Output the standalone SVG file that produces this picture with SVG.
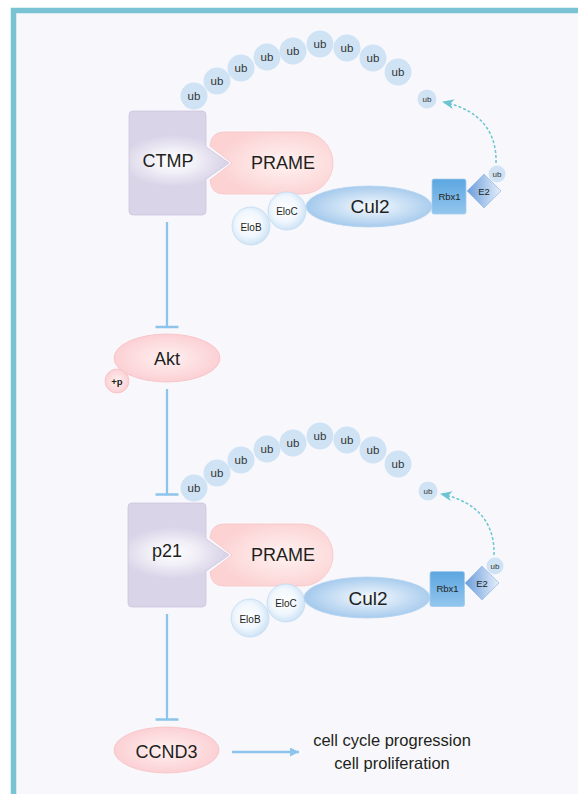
<svg xmlns="http://www.w3.org/2000/svg" width="578" height="794" viewBox="0 0 578 794">
<style>
.t{font-family:"Liberation Sans",Arial,sans-serif;fill:#231f20;text-anchor:middle}
.ub{fill:#cfe3f5}
.ubt{font-family:"Liberation Sans",Arial,sans-serif;fill:#333;text-anchor:middle;font-size:11.5px}
.ubs{font-family:"Liberation Sans",Arial,sans-serif;fill:#333;text-anchor:middle;font-size:8px}
.box{fill:url(#gBox);stroke:#cbc5de;stroke-width:0.8}
.prame{fill:url(#gPink);stroke:#f8c4c6;stroke-width:0.8}
.elo{fill:url(#gElo);stroke:#c2dbf0;stroke-width:0.8}
.cul{fill:url(#gCul);stroke:#b6d4f0;stroke-width:0.8}
.rbx{fill:url(#gRbx);stroke:#a3cbee;stroke-width:0.8}
.e2{fill:url(#gE2);stroke:#9fbfe8;stroke-width:0.8}
.pink{fill:url(#gPinkE);stroke:#f6bfc3;stroke-width:0.8}
.inh{stroke:#8dc4eb;stroke-width:2.3;fill:none}
.dash{stroke:#6cc4d2;stroke-width:1.5;fill:none;stroke-dasharray:3 2}
</style>
<defs>
<radialGradient id="gBox" cx="0" cy="0" r="1" gradientTransform="translate(0.44,0.48) scale(0.52,0.25)">
<stop offset="0" stop-color="#ffffff"/>
<stop offset="0.45" stop-color="#f1eff7"/>
<stop offset="1" stop-color="#d9d4e8"/>
</radialGradient>
<radialGradient id="gPink" cx="0.6" cy="0.5" r="0.55">
<stop offset="0" stop-color="#fff3f2"/>
<stop offset="1" stop-color="#fcd2d3"/>
</radialGradient>
<radialGradient id="gPinkE" cx="0.5" cy="0.5" r="0.55">
<stop offset="0" stop-color="#fff1f1"/>
<stop offset="1" stop-color="#fbcdd1"/>
</radialGradient>
<radialGradient id="gElo" cx="0.45" cy="0.45" r="0.55">
<stop offset="0" stop-color="#ffffff"/>
<stop offset="0.6" stop-color="#f1f7fd"/>
<stop offset="1" stop-color="#cfe4f6"/>
</radialGradient>
<radialGradient id="gCul" cx="0.52" cy="0.5" r="0.5">
<stop offset="0" stop-color="#f6fafe"/>
<stop offset="1" stop-color="#a7cbed"/>
</radialGradient>
<linearGradient id="gRbx" x1="0" y1="0" x2="0" y2="1">
<stop offset="0" stop-color="#5ca6e0"/>
<stop offset="1" stop-color="#93c6ee"/>
</linearGradient>
<linearGradient id="gE2" x1="0" y1="0" x2="1" y2="0">
<stop offset="0" stop-color="#6a9ddb"/>
<stop offset="1" stop-color="#e6effa"/>
</linearGradient>
<marker id="mDash" viewBox="0 0 12 10" refX="11" refY="5" markerWidth="12" markerHeight="10" markerUnits="userSpaceOnUse" orient="auto">
<path d="M0,0 L12,5 L0,10 L3.5,5 Z" fill="#6cc4d2"/>
</marker>
<marker id="mArr" viewBox="0 0 10 10" refX="10" refY="5" markerWidth="9" markerHeight="9" markerUnits="userSpaceOnUse" orient="auto">
<path d="M0,0 L10,5 L0,10 Z" fill="#8dc4eb"/>
</marker>
</defs>

<rect x="0" y="0" width="578" height="794" fill="#ffffff"/>
<rect x="13.5" y="10.5" width="600" height="800" fill="#f8f8fc" stroke="#79c3d5" stroke-width="5.5"/>

<!-- connectors -->
<g id="connectors">
<path class="inh" d="M167,222 V327 M155.5,327 H178.5"/>
<path class="inh" d="M167,389 V494.5 M155.5,494.5 H178.5"/>
<path class="inh" d="M167,614 V719.5 M155.5,719.5 H178.5"/>
<path d="M232,752 H299" stroke="#8dc4eb" stroke-width="2.3" fill="none" marker-end="url(#mArr)"/>
<path class="dash" d="M496,163 C497,134 482,110 443,102" marker-end="url(#mDash)"/>
<path class="dash" d="M494,555 C495,526 480,502 441,494" marker-end="url(#mDash)"/>
</g>

<!-- top complex -->
<g id="ub-chain-top">
<circle class="ub" cx="194" cy="96" r="13.5"/><text class="ubt" x="194" y="100">ub</text>
<circle class="ub" cx="217" cy="81" r="13.5"/><text class="ubt" x="217" y="85">ub</text>
<circle class="ub" cx="241" cy="68" r="13.5"/><text class="ubt" x="241" y="72">ub</text>
<circle class="ub" cx="267" cy="57" r="13.5"/><text class="ubt" x="267" y="61">ub</text>
<circle class="ub" cx="293" cy="51" r="13.5"/><text class="ubt" x="293" y="55">ub</text>
<circle class="ub" cx="320" cy="44" r="13.5"/><text class="ubt" x="320" y="48">ub</text>
<circle class="ub" cx="347" cy="48" r="13.5"/><text class="ubt" x="347" y="52">ub</text>
<circle class="ub" cx="373" cy="58" r="13.5"/><text class="ubt" x="373" y="62">ub</text>
<circle class="ub" cx="398" cy="72" r="13.5"/><text class="ubt" x="398" y="76">ub</text>
</g>
<g id="ub-free-top">
<circle class="ub" cx="427" cy="99" r="9.5"/><text class="ubs" x="427" y="102">ub</text>
</g>
<g id="ctmp">
<path class="box" d="M133,111 H202 Q206,111 206,115 V147 L229,163 L206,179 V211 Q206,215 202,215 H133 Q129,215 129,211 V115 Q129,111 133,111 Z"/>
<text class="t" x="168" y="166.5" font-size="18">CTMP</text>
</g>
<g id="prame-top">
<path class="prame" d="M224,132 H302 A31,31 0 0 1 302,194 H224 Q211,194 210,180 L232,163 L210,146 Q211,132 224,132 Z"/>
<text class="t" x="283" y="168.5" font-size="18">PRAME</text>
</g>
<g id="elob-top">
<circle class="elo" cx="251" cy="226" r="19"/>
<text class="t" x="251" y="230.5" font-size="10">EloB</text>
</g>
<g id="eloc-top">
<circle class="elo" cx="287" cy="211" r="19"/>
<text class="t" x="287" y="215" font-size="10">EloC</text>
</g>
<g id="cul2-top">
<ellipse class="cul" cx="369" cy="206.5" rx="63" ry="20.5"/>
<text class="t" x="370" y="213" font-size="19">Cul2</text>
</g>
<g id="rbx1-top">
<rect class="rbx" x="432" y="179" width="34" height="35" rx="2"/>
<text class="t" x="449.5" y="199.5" font-size="9.5">Rbx1</text>
</g>
<g id="e2-top">
<path class="e2" d="M484,174 L501,191 L484,208 L467,191 Z"/>
<text class="t" x="484" y="194.5" font-size="9.5">E2</text>
<circle class="ub" cx="497" cy="174" r="8.5"/>
<text class="ubs" x="497" y="177">ub</text>
</g>

<!-- Akt -->
<g id="akt">
<ellipse class="pink" cx="167" cy="358" rx="53" ry="24"/>
<text class="t" x="167" y="365" font-size="18">Akt</text>
<circle class="pink" cx="117" cy="381" r="12"/>
<text class="t" x="117" y="384.5" font-size="9.5" font-weight="bold">+p</text>
</g>

<!-- bottom complex -->
<g id="ub-chain-bottom">
<circle class="ub" cx="194" cy="488" r="13.5"/><text class="ubt" x="194" y="492">ub</text>
<circle class="ub" cx="217" cy="473" r="13.5"/><text class="ubt" x="217" y="477">ub</text>
<circle class="ub" cx="241" cy="460" r="13.5"/><text class="ubt" x="241" y="464">ub</text>
<circle class="ub" cx="267" cy="449" r="13.5"/><text class="ubt" x="267" y="453">ub</text>
<circle class="ub" cx="293" cy="443" r="13.5"/><text class="ubt" x="293" y="447">ub</text>
<circle class="ub" cx="320" cy="436" r="13.5"/><text class="ubt" x="320" y="440">ub</text>
<circle class="ub" cx="347" cy="440" r="13.5"/><text class="ubt" x="347" y="444">ub</text>
<circle class="ub" cx="373" cy="450" r="13.5"/><text class="ubt" x="373" y="454">ub</text>
<circle class="ub" cx="398" cy="464" r="13.5"/><text class="ubt" x="398" y="468">ub</text>
</g>
<g id="ub-free-bottom">
<circle class="ub" cx="428" cy="491" r="9.5"/><text class="ubs" x="428" y="494">ub</text>
</g>
<g id="p21">
<path class="box" d="M132,503 H202 Q206,503 206,507 V539 L229,555 L206,571 V603 Q206,607 202,607 H132 Q128,607 128,603 V507 Q128,503 132,503 Z"/>
<text class="t" x="167" y="556.5" font-size="18">p21</text>
</g>
<g id="prame-bottom">
<path class="prame" d="M224,524 H302 A31,31 0 0 1 302,586 H224 Q211,586 210,572 L232,555 L210,538 Q211,524 224,524 Z"/>
<text class="t" x="283" y="560.5" font-size="18">PRAME</text>
</g>
<g id="elob-bottom">
<circle class="elo" cx="250" cy="618" r="19"/>
<text class="t" x="250" y="622.5" font-size="10">EloB</text>
</g>
<g id="eloc-bottom">
<circle class="elo" cx="286" cy="603" r="19"/>
<text class="t" x="286" y="607" font-size="10">EloC</text>
</g>
<g id="cul2-bottom">
<ellipse class="cul" cx="367" cy="597.5" rx="63" ry="20.5"/>
<text class="t" x="368" y="604.5" font-size="19">Cul2</text>
</g>
<g id="rbx1-bottom">
<rect class="rbx" x="430" y="571.5" width="34.5" height="35" rx="2"/>
<text class="t" x="447.5" y="592" font-size="9.5">Rbx1</text>
</g>
<g id="e2-bottom">
<path class="e2" d="M482,566 L499,583 L482,600 L465,583 Z"/>
<text class="t" x="482" y="586.5" font-size="9.5">E2</text>
<circle class="ub" cx="495" cy="566" r="8.5"/>
<text class="ubs" x="495" y="569">ub</text>
</g>

<!-- CCND3 -->
<g id="ccnd3">
<ellipse class="pink" cx="166.5" cy="750" rx="52.5" ry="23"/>
<text class="t" x="166.5" y="757.5" font-size="18">CCND3</text>
</g>
<g id="outcome">
<text class="t" x="392" y="746" font-size="16.5">cell cycle progression</text>
<text class="t" x="392" y="769" font-size="16.5">cell proliferation</text>
</g>
</svg>
